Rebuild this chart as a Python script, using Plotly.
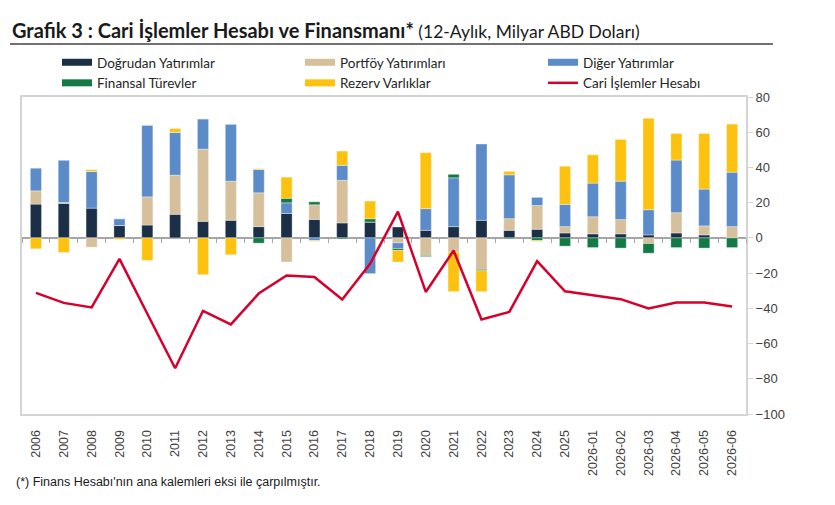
import plotly.graph_objects as go

# categories (years, then monthly 12-month sums for 2026)
donemler = [str(y) for y in range(2006, 2026)] + ["2026-01", "2026-02", "2026-03", "2026-04", "2026-05", "2026-06"]

dogrudan = [19.2, 19.6, 16.9, 7.0, 7.3, 13.4, 9.4, 10.0, 6.4, 13.9, 10.5, 8.5, 9.0, 6.2, 4.3, 6.4, 10.0, 4.3, 4.9, 2.8, 2.3, 2.3, 1.7, 2.8, 1.7, 0.3]
portfoy = [7.5, 0.5, -5.3, 0.0, 16.0, 22.2, 41.0, 22.2, 19.2, -13.7, 8.3, 24.2, 0.0, -2.8, -10.0, -8.1, -17.9, 6.6, 13.5, 3.6, 9.7, 8.1, -3.2, 11.5, 5.1, 6.1]
diger = [13.0, 24.1, 20.9, 3.9, 40.7, 24.4, 17.2, 32.4, 13.2, 6.0, -1.5, 8.5, -20.3, -3.2, 12.3, 27.7, 43.3, 24.9, 4.6, 12.6, 19.1, 21.8, 14.3, 29.9, 20.9, 30.9]
finansal = [0.0, 0.0, 0.0, 0.0, 0.0, 0.0, 0.0, 0.0, -3.0, 2.6, 1.7, -0.6, 1.9, -1.1, -0.6, 2.0, -0.75, -0.5, -1.5, -4.7, -5.5, -5.8, -5.5, -5.5, -5.8, -5.5]
rezerv = [-6.2, -8.3, 1.0, -0.8, -12.8, 2.1, -20.9, -9.6, 0.5, 12.0, -0.4, 8.1, 10.0, -6.6, 31.8, -22.4, -11.9, 2.0, -0.5, 21.7, 16.1, 23.7, 51.9, 15.1, 31.6, 27.3]
cari = [-31.2, -36.9, -39.5, -11.9, -43.1, -74.0, -41.4, -49.1, -31.6, -21.3, -22.2, -35.0, -14.7, 14.9, -30.7, -7.2, -46.3, -42.0, -13.2, -30.3, -32.6, -34.8, -40.1, -36.7, -36.7, -39.0]

x = list(range(len(donemler)))
sinirlar = [i + 0.5 for i in range(-1, len(donemler))]  # category boundaries for zero-line ticks

fig = go.Figure()

# stacked bars (positive up, negative down, same order as Excel)
# legend column for each series: legend = col 1, legend2 = col 2, legend3 = col 3
bar_series = [
    ("Doğrudan Yatırımlar", dogrudan, "#1b2f47", "legend"),
    ("Portföy Yatırımları", portfoy, "#d6bf9b", "legend2"),
    ("Diğer Yatırımlar", diger, "#5b8bc8", "legend3"),
    ("Finansal Türevler", finansal, "#137a45", "legend"),
    ("Rezerv Varlıklar", rezerv, "#fcc20f", "legend2"),
]
for name, vals, color, leg in bar_series:
    fig.add_trace(go.Bar(
        x=x, y=vals, name=name, width=0.4,
        marker=dict(color=color, line=dict(color="rgba(255,255,255,0.6)", width=0.6)),
        legendgroup=name, showlegend=False,
    ))
    # legend-only entry, drawn as a flat rectangle like the Excel legend
    fig.add_trace(go.Scatter(
        x=[None], y=[None], mode="lines", name=name, legendgroup=name,
        line=dict(color=color, width=7), legend=leg, hoverinfo="skip",
    ))

fig.add_trace(go.Scatter(
    x=x, y=cari, name="Cari İşlemler Hesabı", mode="lines",
    line=dict(color="#d7002c", width=2.5), legend="legend3",
))

# invisible helper so the tick axis on the zero line gets drawn
fig.add_trace(go.Scatter(x=sinirlar, y=[0] * len(sinirlar), xaxis="x2", mode="markers",
                         marker=dict(opacity=0), showlegend=False, hoverinfo="skip"))

frame = "#d4d4d4"
legend_style = dict(
    orientation="v", xref="container", yref="container",
    yanchor="top", xanchor="left", y=1 - 47 / 505,
    font=dict(family="Lato", size=13.5, color="#262626"),
    bgcolor="rgba(0,0,0,0)", itemclick=False, tracegroupgap=0,
)
fig.update_layout(
    width=835, height=505,
    barmode="relative",
    plot_bgcolor="white", paper_bgcolor="white",
    margin=dict(l=22, r=89, t=97, b=91, autoexpand=False),
    font=dict(family="Liberation Sans, Arial", size=12, color="#404040"),
    title=dict(
        text="<b><span style='font-size:20px'>Grafik 3 : Cari İşlemler Hesabı ve Finansmanı*</span></b> (12-Aylık, Milyar ABD Doları)",
        font=dict(family="Lato", size=17.5, color="#1a1a1a"),
        xref="container", x=12 / 835, xanchor="left",
        yref="container", y=1 - 32 / 505, yanchor="middle",
    ),
    legend=dict(legend_style, x=57 / 835),
    legend2=dict(legend_style, x=300 / 835),
    legend3=dict(legend_style, x=543 / 835),
    xaxis=dict(
        range=[-0.5, len(donemler) - 0.5],
        tickmode="array", tickvals=x, ticktext=donemler, tickangle=-90,
        ticks="", ticklabelstandoff=9,
        tickfont=dict(size=12.5, color="#404040"),
        showline=True, linecolor=frame, linewidth=2, mirror=True,
        showgrid=False, zeroline=False,
    ),
    xaxis2=dict(
        overlaying="x", anchor="free", position=100 / 180,
        range=[-0.5, len(donemler) - 0.5],
        tickmode="array", tickvals=sinirlar, ticks="outside", ticklen=4,
        tickcolor="#a6a6a6", tickwidth=1, showticklabels=False,
        showline=False, showgrid=False, zeroline=False,
    ),
    yaxis=dict(
        side="right", range=[-100, 80], dtick=20,
        ticks="outside", ticklen=5, tickcolor=frame,
        tickfont=dict(size=13, color="#404040"),
        showline=True, linecolor=frame, linewidth=2, mirror=True,
        showgrid=False, zeroline=True, zerolinecolor="#a6a6a6", zerolinewidth=1.5,
    ),
)

# title underline
fig.add_shape(type="line", xref="paper", yref="paper",
              x0=-12 / 724, x1=751 / 724, y0=1 + 53 / 317, y1=1 + 53 / 317,
              line=dict(color="#404040", width=1.5))

# footnote
fig.add_annotation(
    text="(*) Finans Hesabı'nın ana kalemleri eksi ile çarpılmıştır.",
    xref="paper", yref="paper", x=-8 / 724, y=-68 / 317,
    xanchor="left", yanchor="middle", showarrow=False,
    font=dict(family="Liberation Sans, Arial", size=12.5, color="#1a1a1a"),
)

# drop the default page margin so the figure sits at the window's top-left corner
fig.write_html("out.html", config={"displayModeBar": False},
               post_script="document.body.style.margin='0';")
